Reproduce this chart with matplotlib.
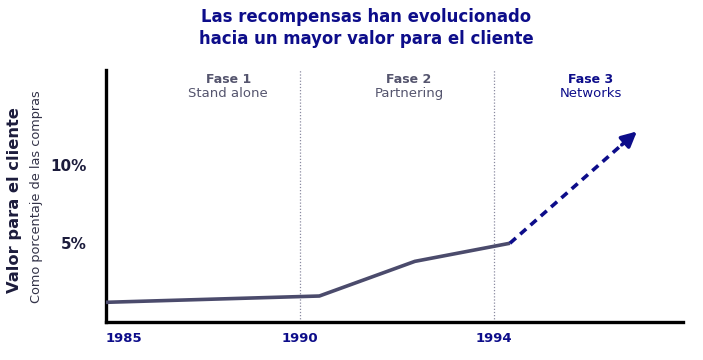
import matplotlib
matplotlib.use("Agg")
import matplotlib.pyplot as plt

# Data (x in timeline units, y in % of purchases)
line_x = [1986.0, 1990.4, 1992.37, 1994.33]
line_y = [1.25, 1.65, 3.85, 5.0]
arrow_x = [1994.33, 1996.95]
arrow_y = [5.0, 12.1]
tick_pos = [1986.0, 1990.0, 1994.0]
tick_labels = ["1985", "1990", "1994"]
ytick_pos = [5, 10]
ytick_labels = ["5%", "10%"]
phase_pos = [1988.52, 1992.25, 1996.0]
phase_titles = ["Fase 1", "Fase 2", "Fase 3"]
phase_subs = ["Stand alone", "Partnering", "Networks"]
boundaries = [1990.0, 1994.0]

NAVY = "#0d0d8a"
GREY = "#4b4b6c"
PHASE_GREY = "#55556e"

plt.rcParams['font.family'] = ['DejaVu Sans']
fig = plt.figure(figsize=(7.03, 3.6), dpi=100)
ax = fig.add_axes([106/703, 38/360, (683-106)/703, (322-70)/360])
ax.set_xlim(1986.0, 1997.9)
ax.set_ylim(0, 16.0)

for b in boundaries:
    ax.axvline(b, color="#8a8aa0", lw=0.9, ls=(0, (1, 1.5)), zorder=1)

ax.plot(line_x, line_y, color=GREY, lw=2.6, solid_capstyle='butt', zorder=3)
# dashed part (stop slightly before tip), arrow head at the tip
fx = arrow_x[0] + (arrow_x[1]-arrow_x[0])*0.9
fy = arrow_y[0] + (arrow_y[1]-arrow_y[0])*0.9
ax.plot([arrow_x[0], fx], [arrow_y[0], fy], color=NAVY, lw=2.6, ls=(0, (2.2, 1.6)), zorder=3)
ax.annotate("", xy=(arrow_x[1], arrow_y[1]), xytext=(fx - 0.05, fy - 0.14),
            arrowprops=dict(arrowstyle='-|>,head_length=0.9,head_width=0.45', color=NAVY, lw=2.6,
                            shrinkA=0, shrinkB=0), zorder=4)

for s in ["top", "right"]:
    ax.spines[s].set_visible(False)
for s in ["left", "bottom"]:
    ax.spines[s].set_linewidth(2.4)
    ax.spines[s].set_color("black")

ax.set_xticks(tick_pos)
ax.set_xticklabels(tick_labels, fontsize=9.5, fontweight='bold', color=NAVY)
for lbl, ha in zip(ax.get_xticklabels(), ["left", "center", "center"]):
    lbl.set_ha(ha)
ax.set_yticks(ytick_pos)
ax.set_yticklabels(ytick_labels, fontsize=11, fontweight='bold', color="#1c1c3c")
ax.tick_params(axis='both', length=0)
ax.tick_params(axis='x', pad=7)
ax.tick_params(axis='y', pad=14)

for i, (p, t, s) in enumerate(zip(phase_pos, phase_titles, phase_subs)):
    c = NAVY if i == 2 else PHASE_GREY
    ax.text(p, 15.4, t, ha='center', va='center', fontsize=9, fontweight='bold', color=c)
    ax.text(p, 14.5, s, ha='center', va='center', fontsize=9.5, color=c)

fig.text(15/703, 1 - 200/360, "Valor para el cliente", rotation=90, ha='center', va='center',
         fontsize=11.7, fontweight='bold', color="#1c1c3c")
fig.text(37/703, 1 - 197/360, "Como porcentaje de las compras", rotation=90, ha='center', va='center',
         fontsize=9.3, color="#333348")

fig.text(366/703, 1 - 17/360, "Las recompensas han evolucionado", ha='center', va='center',
         fontsize=11.9, fontweight='bold', color=NAVY)
fig.text(366/703, 1 - 39/360, "hacia un mayor valor para el cliente", ha='center', va='center',
         fontsize=11.9, fontweight='bold', color=NAVY)

fig.savefig("out.png", dpi=100)
